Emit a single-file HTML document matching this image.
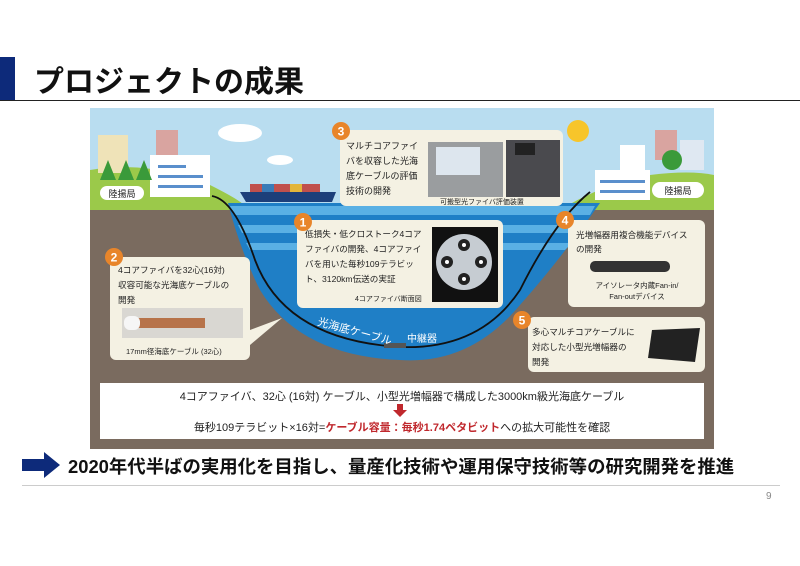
<!DOCTYPE html>
<html><head><meta charset="utf-8"><style>
body{margin:0;width:800px;height:566px;background:#fff;overflow:hidden;position:relative;font-family:"Liberation Sans","Noto Sans CJK JP",sans-serif}
.t{position:absolute;white-space:nowrap}
</style></head><body>
<div style="position:absolute;left:0;top:57px;width:15px;height:43px;background:#0d2a7a"></div>
<div class="t" style="left:34px;top:57px;font-size:30px;font-weight:bold;color:#111">プロジェクトの成果</div>
<div style="position:absolute;left:0;top:100px;width:800px;height:1px;background:#222"></div>

<svg style="position:absolute;left:90px;top:108px" width="624" height="341" viewBox="90 108 624 341" font-family="Liberation Sans, Noto Sans CJK JP, sans-serif">
<rect x="90" y="108" width="624" height="341" fill="#7a6b5f"/>
<rect x="90" y="108" width="624" height="100" fill="#b9ddf0"/>
<ellipse cx="240" cy="133" rx="22" ry="9" fill="#fff"/>
<ellipse cx="280" cy="160" rx="13" ry="5" fill="#fff"/>
<circle cx="578" cy="131" r="11" fill="#f7c52a"/>
<path d="M90 170 Q150 160 210 185 Q240 200 245 206 L230 210 L90 210Z" fill="#9bc94a"/>
<path d="M560 210 Q600 185 650 175 Q690 170 714 175 L714 210Z" fill="#9bc94a"/>
<path d="M228 203 L600 203 Q560 260 520 305 Q470 365 400 360 Q300 356 260 290 Q240 250 228 203Z" fill="#1f7fc6"/>
<path d="M230 206 L595 206 L590 215 L234 215Z" fill="#5ab0e4"/>
<path d="M238 225 L585 225 L578 233 L242 233Z" fill="#5ab0e4"/>
<path d="M246 243 L572 243 L565 250 L250 250Z" fill="#5ab0e4"/>
<rect x="98" y="135" width="30" height="38" fill="#efe3b8"/>
<rect x="156" y="130" width="22" height="25" fill="#d9a4a0"/>
<rect x="150" y="155" width="60" height="42" fill="#fff"/>
<rect x="158" y="165" width="28" height="3" fill="#5a8fcc"/><rect x="158" y="175" width="45" height="3" fill="#5a8fcc"/><rect x="158" y="185" width="45" height="3" fill="#5a8fcc"/>
<path d="M100 180 l8 -20 l8 20Z M118 180 l8 -20 l8 20Z M136 180 l8 -20 l8 20Z" fill="#3a9a3a"/>
<rect x="100" y="186" width="44" height="14" rx="7" fill="#fff"/>
<text x="122" y="197" font-size="9" text-anchor="middle" fill="#222">陸揚局</text>
<path d="M240 192 L336 192 L332 202 L246 202Z" fill="#1d3f7a"/>
<rect x="250" y="184" width="70" height="8" fill="#c0504d"/>
<rect x="262" y="184" width="12" height="8" fill="#3a7bb8"/><rect x="290" y="184" width="12" height="8" fill="#e3b53a"/>
<rect x="655" y="130" width="22" height="30" fill="#d9a4a0"/>
<rect x="680" y="140" width="24" height="30" fill="#dfe8f2"/>
<rect x="595" y="170" width="55" height="30" fill="#fff"/>
<rect x="620" y="145" width="25" height="28" fill="#fff"/>
<rect x="600" y="180" width="45" height="3" fill="#5a8fcc"/><rect x="600" y="190" width="45" height="3" fill="#5a8fcc"/>
<circle cx="672" cy="160" r="10" fill="#3a9a3a"/>
<rect x="652" y="182" width="52" height="16" rx="8" fill="#fff"/>
<text x="678" y="194" font-size="9" text-anchor="middle" fill="#222">陸揚局</text>
<path d="M212 196 Q235 200 255 260 Q285 340 400 347 Q480 350 520 290 Q555 220 590 192" fill="none" stroke="#111" stroke-width="1.8"/>
<rect x="384" y="343" width="22" height="5" fill="#555"/>
<text x="317" y="325" font-size="11" fill="#fff" transform="rotate(15 317 325)">光海底ケーブル</text>
<text x="407" y="342" font-size="10" fill="#fff">中継器</text>
<rect x="340" y="130" width="223" height="76" rx="6" fill="#f4f1e3"/>
<text font-size="9" fill="#222"><tspan x="346" y="149">マルチコアファイ</tspan><tspan x="346" y="164">バを収容した光海</tspan><tspan x="346" y="179">底ケーブルの評価</tspan><tspan x="346" y="194">技術の開発</tspan></text>
<rect x="428" y="142" width="75" height="55" fill="#9a9d9f"/><rect x="436" y="147" width="44" height="28" fill="#dde6ee"/>
<rect x="506" y="140" width="54" height="57" fill="#4a4a4e"/><rect x="515" y="143" width="20" height="12" fill="#222"/>
<text x="440" y="204" font-size="7" fill="#222">可搬型光ファイバ評価装置</text>
<circle cx="341" cy="131" r="9" fill="#e8852a"/><text x="341" y="135.5" font-size="12" font-weight="bold" text-anchor="middle" fill="#fff">3</text>
<rect x="297" y="220" width="206" height="88" rx="6" fill="#f4f1e3"/>
<text font-size="8.6" fill="#222"><tspan x="305" y="237">低損失・低クロストーク4コア</tspan><tspan x="305" y="252">ファイバの開発、4コアファイ</tspan><tspan x="305" y="267">バを用いた毎秒109テラビッ</tspan><tspan x="305" y="282">ト、3120km伝送の実証</tspan></text>
<text x="355" y="301" font-size="7" fill="#222">4コアファイバ断面図</text>
<rect x="432" y="227" width="66" height="75" fill="#111"/>
<circle cx="464" cy="262" r="28" fill="#c6ccd2"/>
<g fill="#222"><circle cx="464" cy="245" r="6"/><circle cx="464" cy="279" r="6"/><circle cx="447" cy="262" r="6"/><circle cx="481" cy="262" r="6"/></g>
<g fill="#fff"><circle cx="464" cy="245" r="2"/><circle cx="464" cy="279" r="2"/><circle cx="447" cy="262" r="2"/><circle cx="481" cy="262" r="2"/></g>
<circle cx="303" cy="222" r="9" fill="#e8852a"/><text x="303" y="226.5" font-size="12" font-weight="bold" text-anchor="middle" fill="#fff">1</text>
<path d="M250 330 L282 318 L250 345Z" fill="#f4f1e3"/>
<rect x="110" y="257" width="140" height="103" rx="6" fill="#f4f1e3"/>
<text font-size="8.6" fill="#222"><tspan x="118" y="273">4コアファイバを32心(16対)</tspan><tspan x="118" y="288">収容可能な光海底ケーブルの</tspan><tspan x="118" y="303">開発</tspan></text>
<rect x="122" y="308" width="121" height="30" fill="#d9d7d2"/>
<rect x="135" y="318" width="70" height="10" fill="#b7734a"/><rect x="124" y="316" width="16" height="14" rx="6" fill="#f6f6f6"/>
<text x="126" y="354" font-size="7.5" fill="#222">17mm径海底ケーブル (32心)</text>
<circle cx="114" cy="257" r="9" fill="#e8852a"/><text x="114" y="261.5" font-size="12" font-weight="bold" text-anchor="middle" fill="#fff">2</text>
<rect x="568" y="220" width="137" height="87" rx="6" fill="#f4f1e3"/>
<text font-size="8.6" fill="#222"><tspan x="576" y="238">光増幅器用複合機能デバイス</tspan><tspan x="576" y="252">の開発</tspan></text>
<rect x="590" y="261" width="80" height="11" rx="5" fill="#333"/>
<text x="637" y="288" font-size="7.5" text-anchor="middle" fill="#222">アイソレータ内蔵Fan-in/</text>
<text x="637" y="299" font-size="7.5" text-anchor="middle" fill="#222">Fan-outデバイス</text>
<circle cx="565" cy="220" r="9" fill="#e8852a"/><text x="565" y="224.5" font-size="12" font-weight="bold" text-anchor="middle" fill="#fff">4</text>
<rect x="528" y="317" width="177" height="55" rx="6" fill="#f4f1e3"/>
<text font-size="8.6" fill="#222"><tspan x="532" y="335">多心マルチコアケーブルに</tspan><tspan x="532" y="350">対応した小型光増幅器の</tspan><tspan x="532" y="365">開発</tspan></text>
<path d="M652 330 L700 328 L695 362 L648 358Z" fill="#222"/>
<circle cx="522" cy="320" r="9" fill="#e8852a"/><text x="522" y="324.5" font-size="12" font-weight="bold" text-anchor="middle" fill="#fff">5</text>
<rect x="100" y="383" width="604" height="56" fill="#fff"/>
<text x="402" y="400" font-size="11" text-anchor="middle" fill="#222">4コアファイバ、32心 (16対) ケーブル、小型光増幅器で構成した3000km級光海底ケーブル</text>
<path d="M397 404 h6 v6 h4 l-7 7 l-7 -7 h4Z" fill="#c0282d"/>
<text x="402" y="431" font-size="11" text-anchor="middle" fill="#222">毎秒109テラビット×16対=<tspan fill="#c0282d" font-weight="bold">ケーブル容量：毎秒1.74ペタビット</tspan>への拡大可能性を確認</text>
</svg>

<svg style="position:absolute;left:22px;top:452px" width="40" height="26"><path d="M0 7 H22 V0 L38 13 L22 26 V19 H0Z" fill="#0d2a7a"/></svg>
<div class="t" style="left:68px;top:453px;font-size:18.4px;font-weight:bold;color:#111">2020年代半ばの実用化を目指し、量産化技術や運用保守技術等の研究開発を推進</div>
<div style="position:absolute;left:22px;top:485px;width:758px;height:1px;background:#ccc"></div>
<div class="t" style="left:766px;top:491px;font-size:10px;color:#888">9</div>
</body></html>
